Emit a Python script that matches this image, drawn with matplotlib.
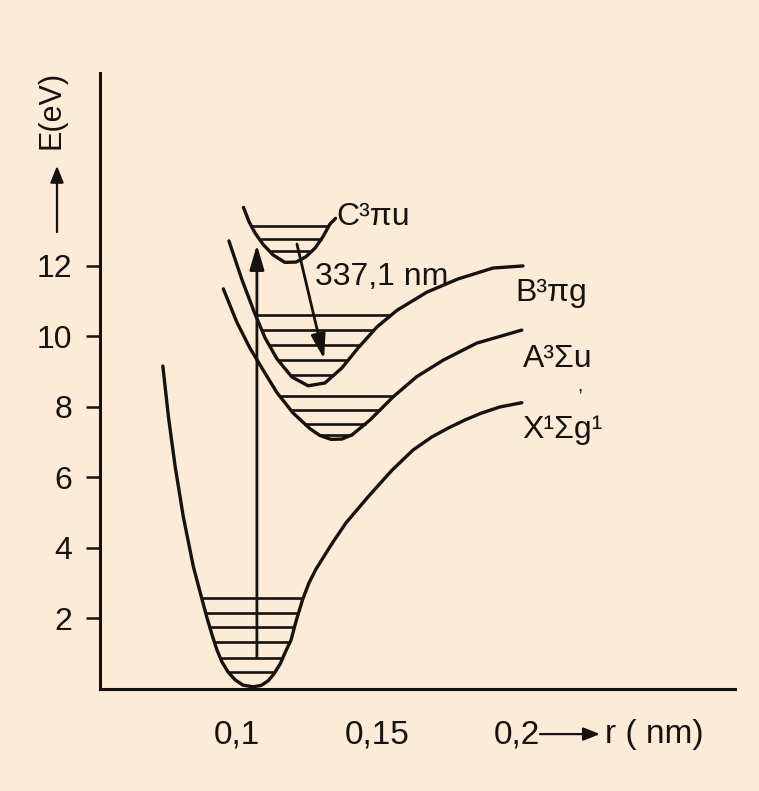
import numpy as np
import matplotlib.pyplot as plt

plt.rcParams['font.family'] = ['Liberation Sans Narrow', 'Liberation Sans', 'DejaVu Sans']
plt.rcParams['font.stretch'] = 'condensed'

# potential curves: r in nm, E in eV
x_r = [0.0735, 0.0755, 0.0779, 0.0808, 0.0844, 0.0874, 0.0893, 0.0911, 0.0929, 0.0946,
       0.0968, 0.0993, 0.1021, 0.1057, 0.1086, 0.1111, 0.1132, 0.1154, 0.1171, 0.1193,
       0.1211, 0.1234, 0.1257, 0.1282, 0.1311, 0.1343, 0.1389, 0.1468, 0.1554, 0.1629,
       0.1696, 0.1754, 0.1814, 0.1871, 0.1939, 0.2017]
x_E = [9.16, 7.72, 6.31, 4.89, 3.47, 2.57, 2.01, 1.53, 1.09, 0.77,
       0.48, 0.26, 0.11, 0.06, 0.10, 0.23, 0.43, 0.71, 1.02, 1.39,
       1.93, 2.53, 3.01, 3.40, 3.77, 4.17, 4.71, 5.45, 6.21, 6.78,
       7.15, 7.40, 7.63, 7.82, 8.00, 8.12]
x_levels = [2.57, 2.15, 1.75, 1.33, 0.87, 0.49]

a_r = [0.0951, 0.0999, 0.1046, 0.1093, 0.1143, 0.1200, 0.1261, 0.1296, 0.1336,
       0.1375, 0.1411, 0.1475, 0.1558, 0.1642, 0.1737, 0.1856, 0.2017]
a_E = [11.35, 10.41, 9.67, 9.05, 8.40, 7.83, 7.38, 7.19, 7.08,
       7.09, 7.21, 7.63, 8.29, 8.86, 9.33, 9.81, 10.18]
a_levels = [8.31, 7.92, 7.53, 7.21]

b_r = [0.0971, 0.1018, 0.1061, 0.1100, 0.1143, 0.1196, 0.1254, 0.1314,
       0.1375, 0.1432, 0.1500, 0.1571, 0.1679, 0.1789, 0.1914, 0.2021]
b_E = [12.71, 11.60, 10.70, 9.96, 9.36, 8.85, 8.60, 8.68,
       9.11, 9.67, 10.27, 10.74, 11.26, 11.63, 11.94, 12.00]
b_levels = [10.61, 10.18, 9.76, 9.33, 8.91]

c_r = [0.1023, 0.1043, 0.1064, 0.1093, 0.1129, 0.1171, 0.1211, 0.1246, 0.1279, 0.1307, 0.1332, 0.1352]
c_E = [13.66, 13.25, 12.94, 12.61, 12.31, 12.10, 12.11, 12.26, 12.51, 12.83, 13.19, 13.35]
c_levels = [13.14, 12.77, 12.43]

# transitions
pump_r = 0.1071
pump_E = [0.92, 12.60]
laser_r = [0.1214, 0.1311]
laser_E = [12.62, 9.36]

curve_names = ['X¹Σg¹', 'A³Σu', 'B³πg', 'C³πu']

bg = '#fcebd6'
ink = '#161210'

fig = plt.figure(figsize=(7.59, 7.91), dpi=100, facecolor=bg)
ax = fig.add_axes([0.1318, 0.1290, 0.8366, 0.7788])
ax.set_facecolor(bg)


def draw_curve(r, E, levels):
    r = np.array(r)
    E = np.array(E)
    ax.plot(r, E, color=ink, lw=2.4, solid_joinstyle='round', solid_capstyle='round')
    i = np.argmin(E)
    lev = np.array(levels)
    left = np.interp(lev, E[:i + 1][::-1], r[:i + 1][::-1])
    right = np.interp(lev, E[i:], r[i:])
    ax.hlines(lev, left, right, color=ink, lw=1.9)


draw_curve(x_r, x_E, x_levels)
draw_curve(a_r, a_E, a_levels)
draw_curve(b_r, b_E, b_levels)
draw_curve(c_r, c_E, c_levels)

arrow = dict(arrowstyle='-|>,head_length=0.75,head_width=0.22', color=ink, lw=2.0,
             shrinkA=0, shrinkB=0, mutation_scale=20)
ax.annotate('', xy=(pump_r, pump_E[1]), xytext=(pump_r, pump_E[0]), arrowprops=arrow)
ax.annotate('', xy=(laser_r[1], laser_E[1]), xytext=(laser_r[0], laser_E[0]), arrowprops=arrow)

# labels
fs = 23
ax.text(0.1354, 13.16, curve_names[3], fontsize=fs, color=ink, va='baseline')
ax.text(0.1279, 11.46, '337,1 nm', fontsize=fs, color=ink, va='baseline')
ax.text(0.1993, 11.00, curve_names[2], fontsize=fs, color=ink, va='baseline')
ax.text(0.2021, 9.12, curve_names[1], fontsize=fs, color=ink, va='baseline')
ax.text(0.2215, 8.45, ',', fontsize=14, color=ink, va='baseline')
ax.text(0.2018, 7.13, curve_names[0], fontsize=fs, color=ink, va='baseline')

# axes
ax.set_xlim(0.05107, 0.27786)
ax.set_ylim(0, 17.475)
ax.spines['top'].set_visible(False)
ax.spines['right'].set_visible(False)
ax.spines['left'].set_linewidth(2.2)
ax.spines['bottom'].set_linewidth(2.2)
ax.spines['left'].set_color(ink)
ax.spines['bottom'].set_color(ink)

ax.set_yticks([2, 4, 6, 8, 10, 12])
ax.set_yticklabels(['2', '4', '6', '8', '10', '12'])
ax.tick_params(axis='y', direction='out', length=10, width=1.8, pad=10,
               labelsize=23, colors=ink)
ax.set_xticks([0.1, 0.15, 0.2])
ax.set_xticklabels(['0,1', '0,15', '0,2'])
ax.tick_params(axis='x', length=0, pad=22, labelsize=24, colors=ink)

# axis titles with arrows
ax.text(0.0336, 16.43, 'E(eV)', fontsize=22, color=ink, rotation=90,
        ha='center', va='center', clip_on=False)
ax.annotate('', xy=(0.0357, 14.84), xytext=(0.0357, 12.96), annotation_clip=False,
            arrowprops=dict(arrowstyle='-|>,head_length=0.5,head_width=0.2', color=ink,
                            lw=1.6, shrinkA=0, shrinkB=0, mutation_scale=20))
ax.annotate('', xy=(0.2296, -1.28), xytext=(0.2082, -1.28), annotation_clip=False,
            arrowprops=dict(arrowstyle='-|>,head_length=0.5,head_width=0.2', color=ink,
                            lw=1.6, shrinkA=0, shrinkB=0, mutation_scale=20))
ax.text(0.2314, -1.28, 'r ( nm)', fontsize=24, color=ink, va='center', clip_on=False)

fig.savefig('out.png', dpi=100, facecolor=bg)
